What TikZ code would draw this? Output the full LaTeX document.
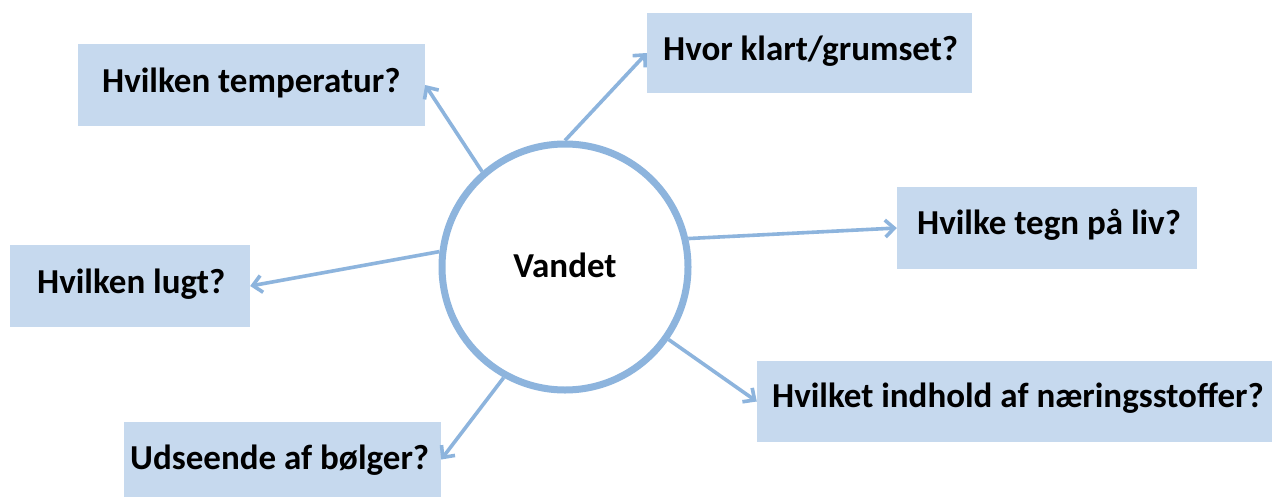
\documentclass[tikz,border=0pt]{standalone}
\usepackage{fontspec}
\setmainfont{Carlito}
\usetikzlibrary{arrows.meta}
\definecolor{lineblue}{HTML}{8DB4DD}
\definecolor{boxblue}{HTML}{C6D9EE}
\tikzset{
  box/.style={fill=boxblue, draw=none, inner sep=0pt},
  lbl/.style={anchor=base west, inner sep=0pt, font=\fontsize{35}{41}\selectfont\bfseries},
  conn/.style={draw=lineblue, line width=3.6pt, -{Straight Barb[length=9pt,width=17pt]}},
}
\begin{document}
\begin{tikzpicture}[x=1pt,y=-1pt]
\useasboundingbox[fill=white] (0,0) rectangle (1274,498);
% boxes
\node[box, minimum width=347pt, minimum height=82pt] (b1) at (251.5,85) {};
\node[box, minimum width=325pt, minimum height=80pt] (b2) at (809.5,53) {};
\node[box, minimum width=300pt, minimum height=82pt] (b3) at (1047,228) {};
\node[box, minimum width=240pt, minimum height=82pt] (b4) at (130,286) {};
\node[box, minimum width=515pt, minimum height=81pt] (b5) at (1014.5,401.5) {};
\node[box, minimum width=317pt, minimum height=75pt] (b6) at (282.5,459.5) {};
% labels
\node[lbl] (t1) at (102,92) {Hvilken temperatur?};
\node[lbl] (t2) at (663,60) {Hvor klart/grumset?};
\node[lbl] (t3) at (917,234) {Hvilke tegn på liv?};
\node[lbl] (t4) at (37,293) {Hvilken lugt?};
\node[lbl] (t5) at (772,407) {Hvilket indhold af næringsstoffer?};
\node[lbl] (t6) at (130,469) {Udseende af bølger?};
% centre circle
\node[circle, draw=lineblue, line width=7pt, fill=white, minimum size=246pt, inner sep=0pt] (c) at (565,267) {};
\node[lbl, anchor=base] (tc) at (565,277) {Vandet};
% connectors
\draw[conn] (c.131.7) -- (b1.east);
\draw[conn] (c.90) -- (b2.west);
\draw[conn] (c.13.3) -- (b3.west);
\draw[conn] (c.173.6) -- (b4.east);
\draw[conn] (c.-35.7) -- (b5.west);
\draw[conn] (c.-119) -- (b6.east);
\end{tikzpicture}
\end{document}
